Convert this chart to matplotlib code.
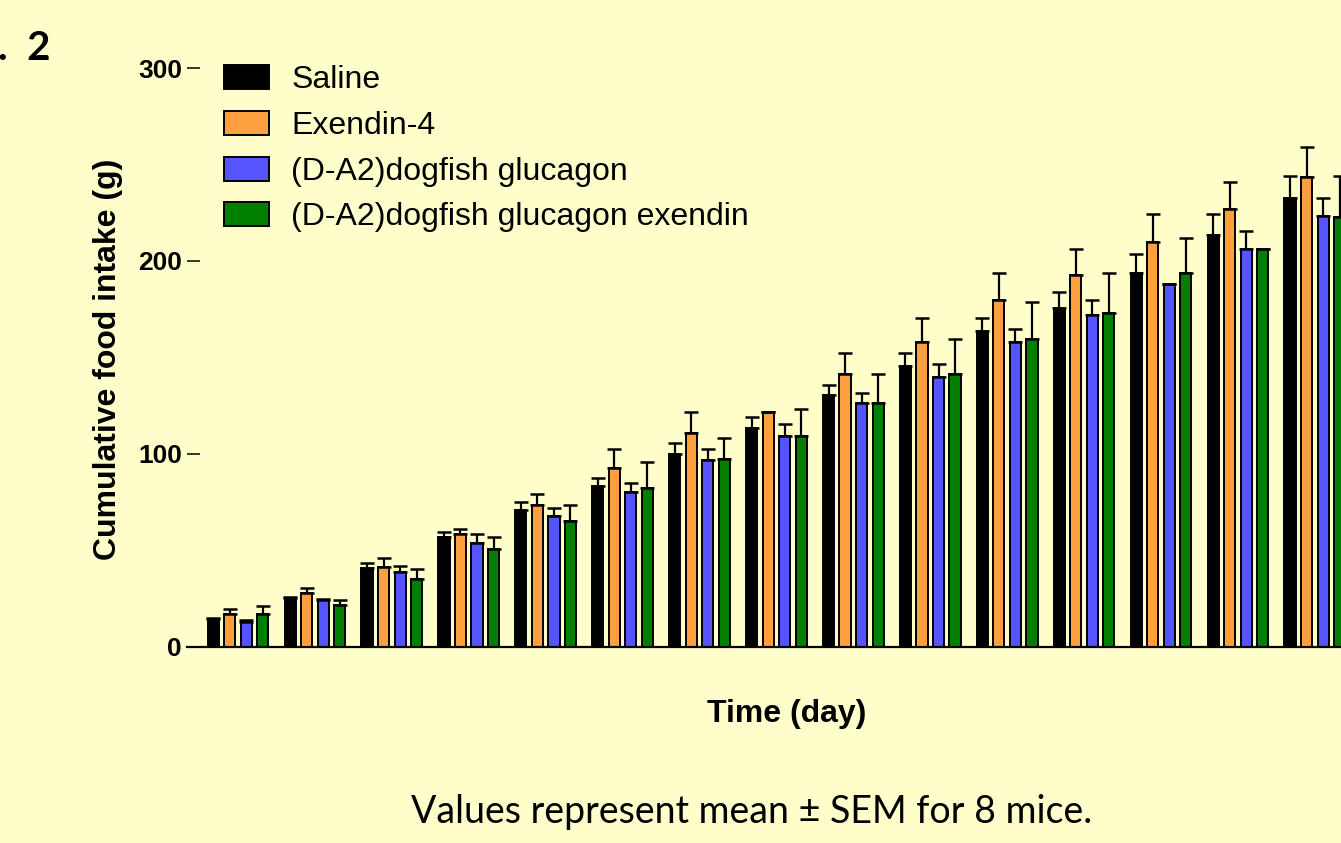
import numpy as np
import matplotlib
matplotlib.use('Agg')
import matplotlib.pyplot as plt

# cumulative food intake (g), mean and upper SEM per day
days = np.arange(1, 16)
saline = [14.5, 25.4, 40.8, 57.2, 71.0, 83.6, 100.0, 113.3, 130.6, 145.6, 163.9, 175.4, 194.0, 213.5, 232.8]
saline_sem = [0.5, 0.6, 2.6, 2.6, 4.0, 3.8, 5.5, 6.0, 5.2, 6.7, 6.6, 8.6, 9.5, 10.9, 11.2]
exendin = [17.0, 28.2, 41.6, 58.4, 73.4, 92.9, 111.0, 121.6, 141.3, 157.9, 179.8, 192.5, 210.0, 226.8, 243.7]
exendin_sem = [2.8, 2.6, 4.5, 2.7, 5.7, 9.7, 10.9, 0.0, 11.2, 12.4, 14.1, 13.9, 14.4, 14.0, 15.3]
dogfish = [13.0, 24.2, 39.0, 54.0, 68.0, 80.5, 96.9, 109.5, 126.2, 140.0, 158.2, 171.8, 188.2, 206.4, 223.1]
dogfish_sem = [1.2, 0.8, 3.0, 4.5, 4.2, 4.3, 5.7, 5.9, 5.6, 6.8, 6.6, 8.2, 0.0, 9.4, 9.7]
dogfish_ex = [17.2, 21.6, 35.1, 50.6, 65.3, 82.2, 97.2, 109.5, 126.2, 141.3, 159.4, 173.2, 194.0, 206.0, 222.6]
dogfish_ex_sem = [4.0, 2.7, 5.3, 6.6, 8.3, 13.7, 10.9, 13.8, 15.1, 18.1, 19.2, 20.4, 17.8, 0.0, 21.4]

labels = ['Saline', 'Exendin-4', '(D-A2)dogfish glucagon', '(D-A2)dogfish glucagon exendin']
colors = ['#000000', '#FFA040', '#5555FF', '#007F00']
series = [saline, exendin, dogfish, dogfish_ex]
sems = [saline_sem, exendin_sem, dogfish_sem, dogfish_ex_sem]

bg = '#FFFFCC'
W, H = 1341, 843
fig = plt.figure(figsize=(W/100, H/100), dpi=100, facecolor=bg)
ax = fig.add_axes([187/W, 1-647/H, 1-187/W, (647-68)/H])
ax.set_facecolor(bg)

pitch = 0.215
width = 0.145
for k in range(4):
    xs = days + (k-1.5)*pitch
    ax.bar(xs, series[k], width, color=colors[k], edgecolor='black', linewidth=1.4,
           label=labels[k], zorder=2)
    ax.errorbar(xs, series[k], yerr=[np.zeros(len(days)), sems[k]], fmt='none',
                ecolor='black', elinewidth=1.6, capsize=5, capthick=1.8, zorder=3)

ax.set_xlim(0.337, 15.34)
ax.set_ylim(0, 300)
ax.set_yticks([0, 100, 200, 300])
ax.set_xticks([])
for s in ['left', 'top', 'right']:
    ax.spines[s].set_visible(False)
ax.spines['bottom'].set_linewidth(1.6)
ax.tick_params(axis='y', direction='in', length=9.4, width=1.1, pad=3.6)
for t in ax.get_yticklabels():
    t.set_fontsize(19)
    t.set_fontweight('bold')
    t.set_family('Liberation Sans')

leg = ax.legend(loc='upper left', bbox_to_anchor=(224/W, 1-65/H), bbox_transform=fig.transFigure,
                frameon=False, borderpad=0, borderaxespad=0, handlelength=1.4, handleheight=0.78,
                handletextpad=0.7, labelspacing=0.49,
                prop={'family': 'Liberation Sans', 'size': 23})

fig.text(108/W, 1-359/H, 'Cumulative food intake (g)', rotation=90, ha='center', va='center',
         fontsize=23, fontweight='bold', family='Liberation Sans')
fig.text(787/W, 1-714/H, 'Time (day)', ha='center', va='center',
         fontsize=23, fontweight='bold', family='Liberation Sans')
fig.text(752/W, 1-812/H, 'Values represent mean \u00b1 SEM for 8 mice.', ha='center', va='center',
         fontsize=27, family='Lato')
fig.text(50/W, 1-49/H, '.  2', ha='right', va='center', fontsize=29, fontweight='bold', family='Lato')

fig.savefig('out.png', dpi=100, facecolor=bg)
